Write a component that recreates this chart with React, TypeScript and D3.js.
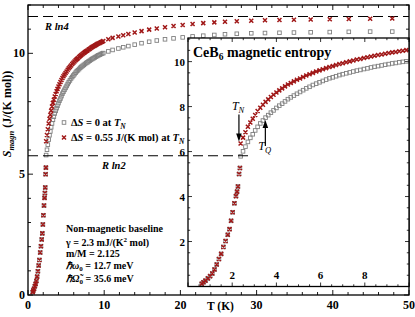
import React from 'react';
import * as d3 from 'd3';

// Temperatures (K)
const temps = [
  0.62, 0.70, 0.79, 0.90, 1.0, 1.1, 1.2, 1.3, 1.4, 1.5, 1.6, 1.7, 1.8, 1.88, 1.95, 2.02, 2.1, 2.17, 2.22, 2.26, 2.31, 2.35,
  2.38, 2.49, 2.60, 2.71, 2.82, 2.93, 3.04, 3.15, 3.27, 3.39, 3.51, 3.63, 3.75, 3.87, 4.00, 4.13, 4.26, 4.39, 4.52, 4.65,
  4.79, 4.93, 5.07, 5.21, 5.35, 5.50, 5.65, 5.80, 5.95, 6.10, 6.25, 6.40, 6.55, 6.70, 6.85, 7.00, 7.16, 7.32, 7.48, 7.64,
  7.80, 7.96, 8.12, 8.28, 8.44, 8.60, 8.76, 8.92, 9.08, 9.24, 9.40, 9.56, 9.72, 9.88,
  10.54, 11.1, 11.86, 12.5, 13.17, 14.0, 14.9, 15.9, 16.9, 17.98, 19.1, 20.3, 21.6, 23.0, 24.45, 25.85, 27.4, 29.3,
  31.1, 33.0, 34.9, 37.1, 39.6, 42.1, 44.9, 47.8,
];

// Series: ΔS = 0 at T_N (open squares)
const sZero = [
  0.12, 0.19, 0.26, 0.36, 0.46, 0.58, 0.76, 0.98, 1.22, 1.45, 1.76, 2.02, 2.3, 2.55, 2.92, 3.3, 3.7, 4.02, 4.22, 4.45, 5.0, 5.27,
  5.79, 6.01, 6.22, 6.43, 6.61, 6.77, 6.94, 7.10, 7.25, 7.38, 7.51, 7.62, 7.73, 7.83, 7.94, 8.04, 8.13, 8.23, 8.33, 8.41,
  8.49, 8.57, 8.65, 8.73, 8.81, 8.88, 8.96, 9.02, 9.08, 9.14, 9.20, 9.26, 9.30, 9.35, 9.40, 9.44, 9.48, 9.52, 9.56, 9.60,
  9.63, 9.67, 9.70, 9.74, 9.77, 9.80, 9.83, 9.86, 9.89, 9.92, 9.94, 9.97, 9.99, 10.01,
  10.08, 10.14, 10.20, 10.25, 10.30, 10.36, 10.42, 10.48, 10.53, 10.58, 10.62, 10.66, 10.70, 10.73, 10.76, 10.79, 10.81, 10.83,
  10.84, 10.85, 10.86, 10.87, 10.88, 10.89, 10.90, 10.90,
];

// Series: ΔS = 0.55 J/(K mol) at T_N (crosses)
const sJump = [
  0.12, 0.19, 0.26, 0.36, 0.46, 0.58, 0.76, 0.98, 1.22, 1.45, 1.76, 2.02, 2.3, 2.55, 2.92, 3.3, 3.7, 4.02, 4.22, 4.45, 5.0, 5.27,
  6.36, 6.62, 6.86, 7.10, 7.29, 7.46, 7.63, 7.80, 7.95, 8.08, 8.21, 8.32, 8.43, 8.53, 8.63, 8.72, 8.81, 8.90, 8.98, 9.05,
  9.12, 9.19, 9.25, 9.32, 9.38, 9.44, 9.50, 9.56, 9.61, 9.66, 9.71, 9.76, 9.80, 9.85, 9.89, 9.93, 9.97, 10.01, 10.05, 10.09,
  10.12, 10.16, 10.19, 10.23, 10.26, 10.29, 10.32, 10.35, 10.38, 10.41, 10.43, 10.46, 10.48, 10.51,
  10.58, 10.64, 10.70, 10.75, 10.80, 10.86, 10.92, 10.98, 11.03, 11.08, 11.13, 11.17, 11.21, 11.25, 11.28, 11.31, 11.33, 11.35,
  11.37, 11.38, 11.39, 11.40, 11.41, 11.42, 11.43, 11.44,
];

const mainXTicks = [0, 10, 20, 30, 40, 50];
const mainYTicks = [0, 5, 10];
const insetXTicks = [2, 4, 6, 8];
const insetYTicks = [2, 4, 6, 8, 10];
const R = 8.314;
const RLN4 = R * Math.log(4);
const RLN2 = R * Math.log(2);
const TN_VAL = 2.35;
const TQ_VAL = 3.5;

const FONT = 'Liberation Serif, Times New Roman, serif';
const RED = '#a01818';
const GREY = '#808080';

const xM = d3.scaleLinear().domain([0, 50]).range([28, 409]);
const yM = d3.scaleLinear().domain([0, 12]).range([295, 5]);
const xI = d3.scaleLinear().domain([0, 10]).range([188, 409]);
const yI = d3.scaleLinear().domain([0, 11.05]).range([286.5, 38]);

const sq = 3.6;
const cr = 2.0;

function Squares({ xs, ys, T, S }: any) {
  return (
    <g>
      {T.map((t: number, i: number) => (
        <rect key={i} x={xs(t) - sq / 2} y={ys(S[i]) - sq / 2} width={sq} height={sq}
          fill="none" stroke={GREY} strokeWidth={0.9} />
      ))}
    </g>
  );
}

function Crosses({ xs, ys, T, S }: any) {
  const d = T.map((t: number, i: number) => {
    const x = xs(t), y = ys(S[i]);
    return `M${x - cr},${y - cr}L${x + cr},${y + cr}M${x - cr},${y + cr}L${x + cr},${y - cr}`;
  }).join('');
  return <path d={d} stroke={RED} strokeWidth={1.5} fill="none" />;
}

function ticksRange(a: number, b: number, step: number) {
  return d3.range(a, b + step / 2, step);
}

export default function App() {
  const mL = 28, mR = 409, mT = 5, mB = 295;
  const iL = 188, iR = 409, iT = 38, iB = 286.5;

  const mainMinorX = ticksRange(0, 50, 2);
  const mainMinorY = ticksRange(0, 12, 1);
  const insMinorX = ticksRange(0, 10, 0.5);
  const insMinorY = ticksRange(0, 11, 0.5);

  const insT = temps.filter((t) => t <= 10);
  const insZ = sZero.slice(0, insT.length);
  const insJ = sJump.slice(0, insT.length);

  const xTN = xI(TN_VAL) - 1;
  const xTQ = xI(TQ_VAL);
  const tf = { fontFamily: FONT };

  return (
    <svg width={415} height={317} style={{ position: 'absolute', left: 0, top: 0, background: '#fff', fontFamily: FONT }}>
      <defs>
        <clipPath id="mainclip"><rect x={mL} y={mT} width={mR - mL} height={mB - mT} /></clipPath>
        <clipPath id="insclip"><rect x={iL} y={iT} width={iR - iL} height={iB - iT} /></clipPath>
      </defs>

      {/* main ticks */}
      <g stroke="#000" strokeWidth={0.9}>
        {mainMinorX.map((v) => {
          const len = v % 10 === 0 ? 5 : 3;
          return (
            <g key={'mx' + v}>
              <line x1={xM(v)} x2={xM(v)} y1={mB} y2={mB - len} />
              <line x1={xM(v)} x2={xM(v)} y1={mT} y2={mT + len} />
            </g>
          );
        })}
        {mainMinorY.map((v) => {
          const len = v % 5 === 0 ? 5 : 3;
          return (
            <g key={'my' + v}>
              <line x1={mL} x2={mL + len} y1={yM(v)} y2={yM(v)} />
              <line x1={mR} x2={mR - len} y1={yM(v)} y2={yM(v)} />
            </g>
          );
        })}
      </g>

      {/* R ln4 */}
      <line x1={xM(0)} x2={xM(50)} y1={yM(RLN4)} y2={yM(RLN4)} stroke="#000" strokeWidth={1.1} strokeDasharray="10,5" />

      {/* main data */}
      <g clipPath="url(#mainclip)">
        <Squares xs={xM} ys={yM} T={temps} S={sZero} />
        <Crosses xs={xM} ys={yM} T={temps} S={sJump} />
      </g>

      {/* main frame */}
      <rect x={mL} y={mT} width={mR - mL} height={mB - mT} fill="none" stroke="#000" strokeWidth={1.3} />

      {/* main tick labels */}
      <g fontWeight="bold" fontSize={12} textAnchor="middle" style={tf}>
        {mainXTicks.map((v) => (
          <text key={'xl' + v} x={xM(v)} y={309}>{v}</text>
        ))}
      </g>
      <g fontWeight="bold" fontSize={12} textAnchor="end" style={tf}>
        {mainYTicks.map((v) => (
          <text key={'yl' + v} x={mL - 3} y={yM(v) + 4}>{v}</text>
        ))}
      </g>

      {/* axis titles */}
      <text x={207} y={310} fontWeight="bold" fontSize={11.5} style={tf}>T (K)</text>
      <text transform={`translate(11,${114}) rotate(-90)`} textAnchor="middle" fontWeight="bold" fontSize={12} style={tf}>
        <tspan fontStyle="italic">S</tspan>
        <tspan fontStyle="italic" fontSize={8.5} dy={3}>magn</tspan>
        <tspan dy={-3}> (J/(K mol))</tspan>
      </text>

      {/* R ln labels */}
      <text x={45} y={30} fontWeight="bold" fontStyle="italic" fontSize={10.5} style={tf}>R ln4</text>
      <text x={102} y={169} fontWeight="bold" fontStyle="italic" fontSize={10.5} style={tf}>R ln2</text>

      {/* legend */}
      <rect x={64 - sq / 2} y={122.5 - sq / 2} width={sq} height={sq} fill="none" stroke={GREY} strokeWidth={0.9} />
      <path d={`M${64 - cr},${137.5 - cr}L${64 + cr},${137.5 + cr}M${64 - cr},${137.5 + cr}L${64 + cr},${137.5 - cr}`}
        stroke={RED} strokeWidth={1.5} />
      <g fontWeight="bold" fontSize={10.5} style={tf}>
        <text x={71} y={126}>
          <tspan>Δ</tspan><tspan fontStyle="italic">S</tspan><tspan> = 0 at </tspan>
          <tspan fontStyle="italic">T</tspan><tspan fontStyle="italic" fontSize={7.5} dy={2.5}>N</tspan>
        </text>
        <text x={71} y={141}>
          <tspan>Δ</tspan><tspan fontStyle="italic">S</tspan><tspan> = 0.55 J/(K mol) at </tspan>
          <tspan fontStyle="italic">T</tspan><tspan fontStyle="italic" fontSize={7.5} dy={2.5}>N</tspan>
        </text>
      </g>

      {/* baseline annotation */}
      <g fontWeight="bold" fontSize={10} style={tf}>
        <text x={66} y={232}>Non-magnetic baseline</text>
        <text x={66} y={246}>γ = 2.3 mJ/(K<tspan fontSize={7} dy={-4}>2</tspan><tspan dy={4}> mol)</tspan></text>
        <text x={66} y={257}>m/M = 2.125</text>
        <text x={66} y={269}><tspan fontStyle="italic">ℏω</tspan><tspan fontSize={7} dy={2}>0</tspan><tspan dy={-2}> = 12.7 meV</tspan></text>
        <text x={66} y={282}><tspan fontStyle="italic">ℏΩ̃</tspan><tspan fontSize={7} dy={2}>0</tspan><tspan dy={-2}> = 35.6 meV</tspan></text>
      </g>

      {/* inset */}
      <rect x={iL} y={iT} width={iR - iL} height={iB - iT} fill="#fff" stroke="none" />
      <g stroke="#000" strokeWidth={0.8}>
        {insMinorX.map((v) => {
          const len = v % 2 === 0 ? 4 : 2.2;
          return (
            <g key={'ix' + v}>
              <line x1={xI(v)} x2={xI(v)} y1={iB} y2={iB - len} />
              <line x1={xI(v)} x2={xI(v)} y1={iT} y2={iT + len} />
            </g>
          );
        })}
        {insMinorY.map((v) => {
          const len = v % 2 === 0 ? 4 : 2.2;
          return (
            <g key={'iy' + v}>
              <line x1={iL} x2={iL + len} y1={yI(v)} y2={yI(v)} />
              <line x1={iR} x2={iR - len} y1={yI(v)} y2={yI(v)} />
            </g>
          );
        })}
      </g>
      <g clipPath="url(#insclip)">
        <Squares xs={xI} ys={yI} T={insT} S={insZ} />
        <Crosses xs={xI} ys={yI} T={insT} S={insJ} />
      </g>
      <rect x={iL} y={iT} width={iR - iL} height={iB - iT} fill="none" stroke="#000" strokeWidth={1.3} />

      {/* R ln2 dashed line across to T_N */}
      <line x1={xM(0)} x2={xI(2.8)} y1={yM(RLN2)} y2={yM(RLN2)} stroke="#000" strokeWidth={1.1} strokeDasharray="10,5" />

      <g fontWeight="bold" fontSize={11} textAnchor="middle" style={tf}>
        {insetXTicks.map((v) => (
          <text key={'ixl' + v} x={xI(v)} y={279}>{v}</text>
        ))}
      </g>
      <g fontWeight="bold" fontSize={11} textAnchor="end" style={tf}>
        {insetYTicks.map((v) => (
          <text key={'iyl' + v} x={iL - 3} y={yI(v) + 4}>{v}</text>
        ))}
      </g>

      <text x={193} y={57} fontWeight="bold" fontSize={14} style={tf}>
        CeB<tspan fontSize={9.5} dy={3}>6</tspan><tspan dy={-3}> magnetic entropy</tspan>
      </text>

      {/* T_N arrow */}
      <line x1={xTN} x2={xTN} y1={yI(7.65)} y2={yI(6.75)} stroke="#000" strokeWidth={1.2} />
      <path d={`M${xTN - 2.8},${yI(6.8)}L${xTN + 2.8},${yI(6.8)}L${xTN},${yI(6.45)}Z`} fill="#000" />
      <text x={xTN - 7} y={yI(7.85)} fontStyle="italic" fontSize={12} style={tf}>
        T<tspan fontSize={8.5} dy={3}>N</tspan>
      </text>

      {/* T_Q arrow */}
      <line x1={xTQ} x2={xTQ} y1={yI(6.25)} y2={yI(7.1)} stroke="#000" strokeWidth={1.2} />
      <path d={`M${xTQ - 2.8},${yI(7.05)}L${xTQ + 2.8},${yI(7.05)}L${xTQ},${yI(7.4)}Z`} fill="#000" />
      <text x={xTQ - 7} y={yI(6.05)} fontStyle="italic" fontSize={12} style={tf}>
        T<tspan fontSize={8.5} dy={3}>Q</tspan>
      </text>
    </svg>
  );
}
